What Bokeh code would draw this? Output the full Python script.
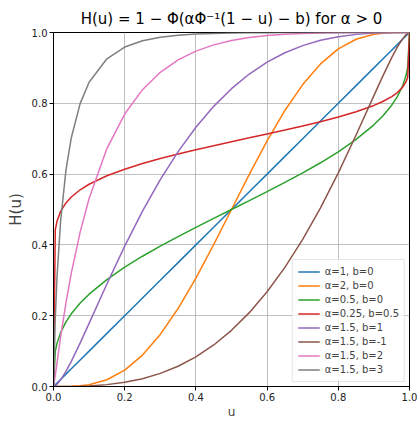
from bokeh.plotting import figure
from bokeh.models import Range1d, FixedTicker
from bokeh.embed import file_html
from bokeh.resources import INLINE

u = [0, 0.005, 0.01, 0.02, 0.035, 0.05, 0.075, 0.1, 0.15, 0.2, 0.25, 0.3, 0.35, 0.4, 0.45, 0.5,
     0.55, 0.6, 0.65, 0.7, 0.75, 0.8, 0.85, 0.9, 0.925, 0.95, 0.965, 0.98, 0.99, 0.995, 1]

h_a1_b0 = list(u)
h_a2_b0 = [0, 0, 0, 0.00002, 0.00015, 0.0005, 0.0020, 0.0052, 0.0191, 0.0462, 0.0887, 0.1471, 0.2203,
           0.3061, 0.4009, 0.5, 0.5991, 0.6939, 0.7797, 0.8529, 0.9113, 0.9538, 0.9809, 0.9948, 0.9980,
           0.9995, 0.99985, 0.99998, 1, 1, 1]
h_a05_b0 = [0, 0.0989, 0.1224, 0.1522, 0.1825, 0.2054, 0.2358, 0.2608, 0.3021, 0.3370, 0.3680, 0.3966,
            0.4236, 0.4496, 0.4750, 0.5, 0.5250, 0.5504, 0.5764, 0.6034, 0.6320, 0.6630, 0.6979, 0.7392,
            0.7642, 0.7946, 0.8175, 0.8478, 0.8776, 0.9011, 1]
h_a025_b05 = [0, 0.4427, 0.4675, 0.4947, 0.5187, 0.5354, 0.5557, 0.5713, 0.5952, 0.6139, 0.6298, 0.6439,
              0.6568, 0.6688, 0.6803, 0.6915, 0.7024, 0.7134, 0.7245, 0.7360, 0.7481, 0.7613, 0.7761,
              0.7940, 0.8051, 0.8189, 0.8297, 0.8446, 0.8603, 0.8737, 1]
h_a15_b1 = [0, 0.0021, 0.0064, 0.0187, 0.0429, 0.0711, 0.1232, 0.1782, 0.2896, 0.3965, 0.4953, 0.5845,
            0.6635, 0.7324, 0.7914, 0.8413, 0.8827, 0.9162, 0.9427, 0.9630, 0.9779, 0.9882, 0.9947,
            0.9983, 0.9992, 0.9997, 0.9999, 1, 1, 1, 1]
h_a15_bm1 = [0, 0, 0, 0, 0.0001, 0.0003, 0.0008, 0.0017, 0.0053, 0.0118, 0.0221, 0.0370, 0.0573, 0.0838,
             0.1173, 0.1587, 0.2086, 0.2676, 0.3365, 0.4155, 0.5047, 0.6035, 0.7104, 0.8218, 0.8768,
             0.9289, 0.9571, 0.9813, 0.9936, 0.9979, 1]
h_a15_b2 = [0, 0.0312, 0.0682, 0.1399, 0.2364, 0.3201, 0.4367, 0.5309, 0.6720, 0.7696, 0.8385, 0.8875,
            0.9225, 0.9474, 0.9650, 0.9772, 0.9857, 0.9913, 0.9950, 0.9973, 0.9987, 0.9994, 0.9998,
            0.9999, 1, 1, 1, 1, 1, 1, 1]
h_a15_b3 = [0, 0.1938, 0.3122, 0.4679, 0.6111, 0.7028, 0.7997, 0.8594, 0.9258, 0.9589, 0.9766, 0.9866,
            0.9923, 0.9956, 0.9975, 0.9987, 0.9993, 0.9996, 0.9998, 0.9999, 1, 1, 1, 1, 1, 1, 1, 1, 1, 1, 1]

series = [h_a1_b0, h_a2_b0, h_a05_b0, h_a025_b05, h_a15_b1, h_a15_bm1, h_a15_b2, h_a15_b3]
labels = ["α=1, b=0", "α=2, b=0", "α=0.5, b=0", "α=0.25, b=0.5", "α=1.5, b=1", "α=1.5, b=-1",
          "α=1.5, b=2", "α=1.5, b=3"]
colors = ["#1f77b4", "#ff7f0e", "#2ca02c", "#d62728", "#9467bd", "#8c564b", "#e377c2", "#7f7f7f"]
ticks = [0.0, 0.2, 0.4, 0.6, 0.8, 1.0]

FONT = "DejaVu Sans"

p = figure(width=417, height=421, output_backend="svg", toolbar_location=None,
           x_range=Range1d(0, 1), y_range=Range1d(0, 1),
           min_border_left=53, min_border_right=8, min_border_top=32, min_border_bottom=33)

p.title.text = "H(u) = 1 − Φ(αΦ⁻¹(1 − u) − b) for α > 0"
p.title.align = "center"
p.title.text_font = FONT
p.title.text_font_size = "15px"
p.title.text_font_style = "normal"
p.title.text_color = "black"

for ys, lab, c in zip(series, labels, colors):
    p.line(u, ys, line_color=c, line_width=1.5, legend_label=lab)

for ax in (p.xaxis[0], p.yaxis[0]):
    ax.ticker = FixedTicker(ticks=ticks)
    ax.minor_tick_line_color = None
    ax.major_tick_in = 0
    ax.major_tick_out = 4
    ax.major_label_text_font = FONT
    ax.major_label_text_font_size = "10px"
    ax.major_label_text_color = "#222222"
    ax.axis_line_color = "black"
    ax.major_label_standoff = 2
    ax.major_label_overrides = {t: f"{t:.1f}" for t in ticks}

p.xaxis.axis_label = "u"
p.xaxis.axis_label_text_font = FONT
p.xaxis.axis_label_text_font_size = "12px"
p.xaxis.axis_label_text_font_style = "normal"
p.xaxis.axis_label_standoff = 1

p.yaxis.axis_label = "H(u)"
p.yaxis.axis_label_text_font = FONT
p.yaxis.axis_label_text_font_size = "15px"
p.yaxis.axis_label_text_font_style = "normal"
p.yaxis.axis_label_standoff = 4

p.xgrid.grid_line_color = "#b0b0b0"
p.ygrid.grid_line_color = "#b0b0b0"
p.xgrid.grid_line_width = 0.8
p.ygrid.grid_line_width = 0.8
p.outline_line_color = "black"
p.outline_line_width = 1
p.outline_line_alpha = 1

lg = p.legend[0]
lg.location = "bottom_right"
lg.label_text_font = FONT
lg.label_text_font_size = "10px"
lg.label_height = 13
lg.glyph_height = 13
lg.glyph_width = 22
lg.spacing = 1
lg.padding = 5
lg.margin = 4
lg.border_line_color = "#cccccc"
lg.background_fill_alpha = 0.8

open("out.html", "w").write(file_html(p, INLINE))
